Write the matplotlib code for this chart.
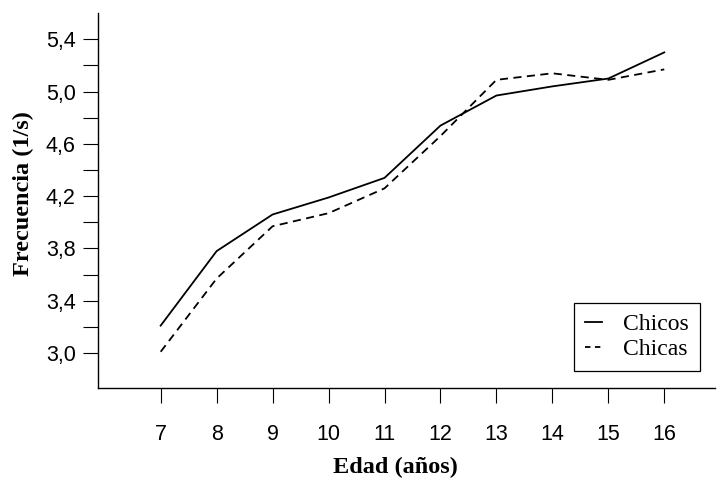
import matplotlib
matplotlib.use('Agg')
import matplotlib.pyplot as plt
import numpy as np
from matplotlib.ticker import FixedLocator
from matplotlib.lines import Line2D

# Data
edad = [7, 8, 9, 10, 11, 12, 13, 14, 15, 16]
chicos = [3.21, 3.78, 4.06, 4.19, 4.34, 4.74, 4.97, 5.04, 5.10, 5.30]
chicas = [3.01, 3.57, 3.97, 4.07, 4.26, 4.66, 5.09, 5.14, 5.09, 5.17]

y_major = [3.0, 3.4, 3.8, 4.2, 4.6, 5.0, 5.4]
y_minor = [3.2, 3.6, 4.0, 4.4, 4.8, 5.2]
y_labels = ['3,0', '3,4', '3,8', '4,2', '4,6', '5,0', '5,4']

serif = 'Liberation Serif'
sans = 'Liberation Sans'

fig = plt.figure(figsize=(7.17, 4.88), dpi=100)
ax = fig.add_axes([0.1367, 0.205, 0.86, 0.768])

ax.plot(edad, chicos, color='black', lw=1.3, ls='-')
ax.plot(edad, chicas, color='black', lw=1.3, ls=(0, (4.5, 3)))

ax.set_xlim(5.88, 16.9)
ax.set_ylim(2.733, 5.6)

for s in ['top', 'right']:
    ax.spines[s].set_visible(False)
for s in ['left', 'bottom']:
    ax.spines[s].set_linewidth(1.0)

ax.set_xticks(edad)
ax.set_xticklabels([str(e) for e in edad], fontfamily=sans, fontsize=15.5)
ax.yaxis.set_major_locator(FixedLocator(y_major))
ax.yaxis.set_minor_locator(FixedLocator(y_minor))
ax.set_yticklabels(y_labels, fontfamily=sans, fontsize=15.5)
ax.tick_params(axis='x', direction='out', length=11, width=0.8, pad=15)
ax.tick_params(axis='y', which='both', direction='out', length=11, width=0.8, pad=5)

ax.set_xlabel('Edad (años)', fontfamily=serif, fontweight='bold', fontsize=17.5, va='center')
ax.set_ylabel('Frecuencia (1/s)', fontfamily=serif, fontweight='bold', fontsize=17.5, va='center')
ax.xaxis.set_label_coords(0.483, -0.211)
ax.yaxis.set_label_coords(-0.121, 0.52)

# short legend keys, like the original
handles = [Line2D([], [], color='black', lw=1.3, ls='-'),
           Line2D([], [], color='black', lw=1.3, ls=(0, (3, 2.5)))]
leg = ax.legend(handles, ['Chicos', 'Chicas'], loc='lower right',
                bbox_to_anchor=(0.976, 0.045), borderaxespad=0,
                handlelength=0.75, handletextpad=0.9, fancybox=False, framealpha=1,
                edgecolor='black', prop={'family': serif, 'size': 17}, labelspacing=0.15,
                borderpad=0.45)
leg.get_frame().set_linewidth(0.9)

fig.savefig('out.png', dpi=100)
